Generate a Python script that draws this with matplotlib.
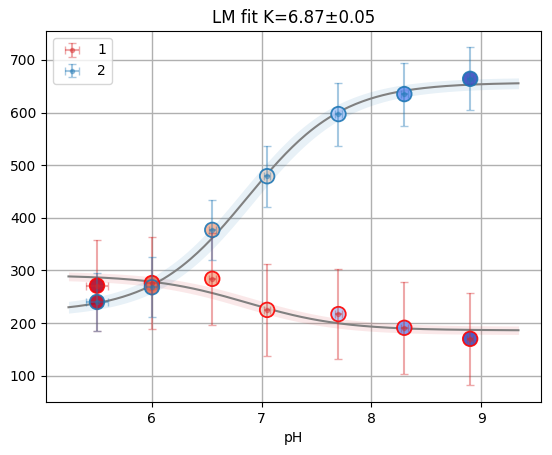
import numpy as np
import matplotlib.pyplot as plt

ph = [5.5, 6.0, 6.55, 7.05, 7.7, 8.3, 8.9]
ph_err = [0.1, 0.05, 0.03, 0.03, 0.03, 0.03, 0.03]
y1 = [271, 276, 284, 225, 217, 191, 170]
y1_err = [87, 87, 87, 87, 86, 87, 87]
y2 = [240, 268, 377, 479, 597, 635, 664]
y2_err = [56, 57, 57, 58, 60, 60, 60]

# fit results
K = 6.87
K_err = 0.05
plateaus_1 = (291.0, 186.0)   # (acid, base)
plateaus_2 = (220.0, 657.0)
plateau_err_1 = 8.0
plateau_err_2 = 10.0
x_fit_range = (5.24, 9.34)


def model(x, sa, sb, k):
    f = 10 ** (k - x)
    return (sb + sa * f) / (1 + f)


def band(x, sa, sb, err):
    curves = []
    for dk in (-K_err, K_err):
        for ds in (-err, err):
            curves.append(model(x, sa + ds, sb - ds, K + dk))
            curves.append(model(x, sa + ds, sb + ds, K + dk))
    curves = np.array(curves)
    return curves.min(axis=0), curves.max(axis=0)


fig = plt.figure(figsize=(5.52, 4.55), dpi=100)
ax = fig.add_axes([0.0833, 0.1165, 0.8967, 0.8155])

xx = np.linspace(x_fit_range[0], x_fit_range[1], 200)
series = [
    ("1", y1, y1_err, plateaus_1, plateau_err_1, "tab:red", "red"),
    ("2", y2, y2_err, plateaus_2, plateau_err_2, "tab:blue", "tab:blue"),
]

for lab, yy, ye, (sa, sb), perr, c, edge in series:
    lo, hi = band(xx, sa, sb, perr)
    ax.fill_between(xx, lo, hi, color=c, alpha=0.1, lw=0)
    ax.plot(xx, model(xx, sa, sb, K), color="gray", lw=1.5)
    ax.scatter(ph, yy, c=ph, cmap="coolwarm_r", vmin=5.5, vmax=8.9,
               s=110, edgecolors=edge, linewidths=1.3, alpha=0.9, zorder=3)
    ax.errorbar(ph, yy, yerr=ye, xerr=ph_err, fmt=".", color=c, alpha=0.4,
                capsize=3, label=lab, zorder=4)

ax.set_title("LM fit K=%.2f±%.2f" % (K, K_err))
ax.set_xlabel("pH")
ax.set_yticks([100, 200, 300, 400, 500, 600, 700])
ax.set_ylim(50, 755)
ax.grid(True, color="#b0b0b0", lw=1)
ax.set_axisbelow(True)
ax.legend(loc="upper left")

fig.savefig("out.png", dpi=100)
